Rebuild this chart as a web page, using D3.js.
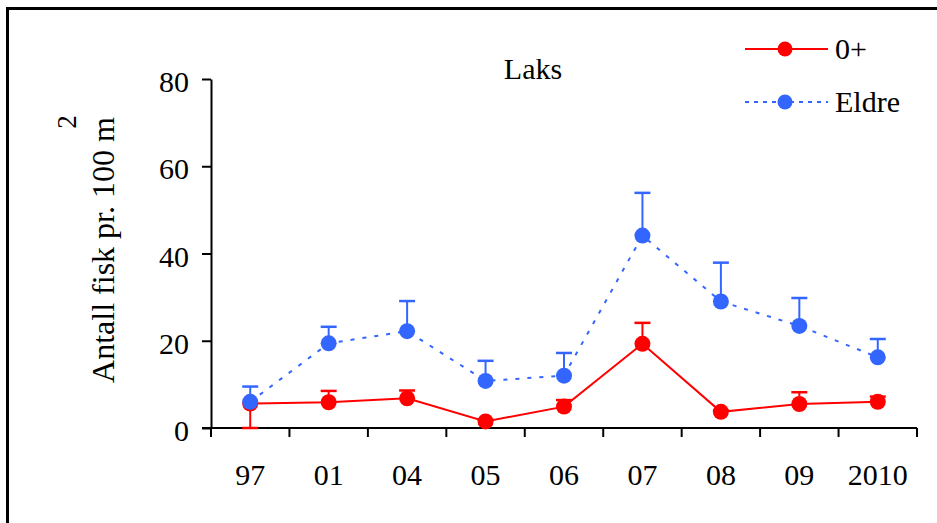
<!DOCTYPE html>
<html>
<head>
<meta charset="utf-8">
<script src="https://cdn.jsdelivr.net/npm/d3@7"></script>
<style>
  html, body { margin: 0; padding: 0; background: #fff; }
  svg { display: block; }
  svg text { font-family: "Liberation Serif", "Times New Roman", serif !important; fill: #000; }
</style>
</head>
<body>
<svg id="chart" width="937" height="523"></svg>
<script>
// Survey years (x categories)
const years = ["97", "01", "04", "05", "06", "07", "08", "09", "2010"];
// Mean density, fish per 100 m2
const youngValues = [5.6, 5.9, 6.8, 1.5, 4.9, 19.3, 3.7, 5.5, 6.0];
const olderValues = [6.0, 19.4, 22.2, 10.8, 12.0, 44.1, 29.0, 23.4, 16.2];
// Error bar lengths (one-sided)
const youngErrors = [5.6, 2.6, 1.8, 0.4, 1.5, 4.8, 0.3, 2.7, 1.2];
const youngErrorSide = ["minus", "plus", "plus", "plus", "plus", "plus", "plus", "plus", "plus"];
const olderErrors = [3.5, 3.8, 6.9, 4.6, 5.2, 9.8, 8.9, 6.4, 4.2];
const yTicks = [0, 20, 40, 60, 80];
const seriesNames = ["0+", "Eldre"];

const RED = "#ff0000";
const BLUE = "#3366ff";

const svg = d3.select("#chart");

// frame
svg.append("rect")
  .attr("x", 7.5).attr("y", 8.5)
  .attr("width", 960).attr("height", 540)
  .attr("fill", "none").attr("stroke", "#000").attr("stroke-width", 3);

const x = d3.scaleBand().domain(years).range([211, 917]).padding(0);
const y = d3.scaleLinear().domain([0, 80]).range([428, 79]);
const cx = d => x(d) + x.bandwidth() / 2;

// y axis
const yAxis = svg.append("g")
  .attr("transform", "translate(211,0)")
  .call(d3.axisLeft(y).tickValues(yTicks).tickSize(9).tickSizeOuter(0).tickPadding(13));
yAxis.attr("font-family", null).attr("font-size", null);
yAxis.select(".domain").attr("stroke", "#000").attr("stroke-width", 2);
yAxis.selectAll(".tick line").attr("stroke", "#000").attr("stroke-width", 2);
yAxis.selectAll(".tick text")
  .style("font-size", "30px")
  .attr("dy", "0.42em");

// x axis: labels at band centres, ticks on band boundaries
const xAxis = svg.append("g")
  .attr("transform", "translate(0,428)")
  .call(d3.axisBottom(x).tickSize(0).tickSizeOuter(0).tickPadding(36));
xAxis.attr("font-family", null).attr("font-size", null);
xAxis.select(".domain").remove();
xAxis.selectAll(".tick text").style("font-size", "30px");
svg.append("line")
  .attr("x1", x.range()[0] - 9).attr("x2", x.range()[1])
  .attr("y1", 428).attr("y2", 428)
  .attr("stroke", "#000").attr("stroke-width", 2);
const boundaries = years.map(d => x(d)).concat([x.range()[1]]);
svg.append("g").selectAll("line").data(boundaries).join("line")
  .attr("x1", d => d).attr("x2", d => d)
  .attr("y1", 428).attr("y2", 437)
  .attr("stroke", "#000").attr("stroke-width", 2);

// y axis title
const yTitle = svg.append("g").attr("transform", "translate(114,250) rotate(-90)");
yTitle.append("text")
  .attr("text-anchor", "middle")
  .style("font-size", "32px")
  .text("Antall fisk pr. 100 m");
yTitle.append("text")
  .attr("x", 128).attr("y", -38)
  .attr("text-anchor", "middle")
  .style("font-size", "27px")
  .text("2");

// chart title
svg.append("text")
  .attr("x", 533).attr("y", 79)
  .attr("text-anchor", "middle")
  .style("font-size", "30px")
  .text("Laks");

function drawSeries(values, errors, sides, color, dash) {
  const g = svg.append("g");
  const capHalf = 8;
  // error bars
  years.forEach((yr, i) => {
    const v = values[i];
    const end = sides[i] === "minus" ? v - errors[i] : v + errors[i];
    g.append("line")
      .attr("x1", cx(yr)).attr("x2", cx(yr))
      .attr("y1", y(v)).attr("y2", y(end))
      .attr("stroke", color).attr("stroke-width", 2);
    g.append("line")
      .attr("x1", cx(yr) - capHalf).attr("x2", cx(yr) + capHalf)
      .attr("y1", y(end)).attr("y2", y(end))
      .attr("stroke", color).attr("stroke-width", 2.5);
  });
  // connecting line
  const line = d3.line().x((d, i) => cx(years[i])).y(d => y(d));
  g.append("path")
    .attr("d", line(values))
    .attr("fill", "none")
    .attr("stroke", color)
    .attr("stroke-width", 2)
    .attr("stroke-dasharray", dash);
  // markers
  g.selectAll("circle").data(values).join("circle")
    .attr("cx", (d, i) => cx(years[i]))
    .attr("cy", d => y(d))
    .attr("r", 8)
    .attr("fill", color);
}

drawSeries(youngValues, youngErrors, youngErrorSide, RED, null);
drawSeries(olderValues, olderErrors, years.map(() => "plus"), BLUE, "4,8");

// legend
const legend = svg.append("g");
const legendRows = [
  { name: seriesNames[0], color: RED, dash: null, y: 49 },
  { name: seriesNames[1], color: BLUE, dash: "4,5", y: 102 }
];
legendRows.forEach(r => {
  legend.append("line")
    .attr("x1", 745).attr("x2", 828)
    .attr("y1", r.y).attr("y2", r.y)
    .attr("stroke", r.color).attr("stroke-width", 2)
    .attr("stroke-dasharray", r.dash);
  legend.append("circle")
    .attr("cx", 785).attr("cy", r.y).attr("r", 7.5)
    .attr("fill", r.color);
  legend.append("text")
    .attr("x", 835).attr("y", r.y + 10)
    .style("font-size", "30px")
    .text(r.name);
});
</script>
</body>
</html>
